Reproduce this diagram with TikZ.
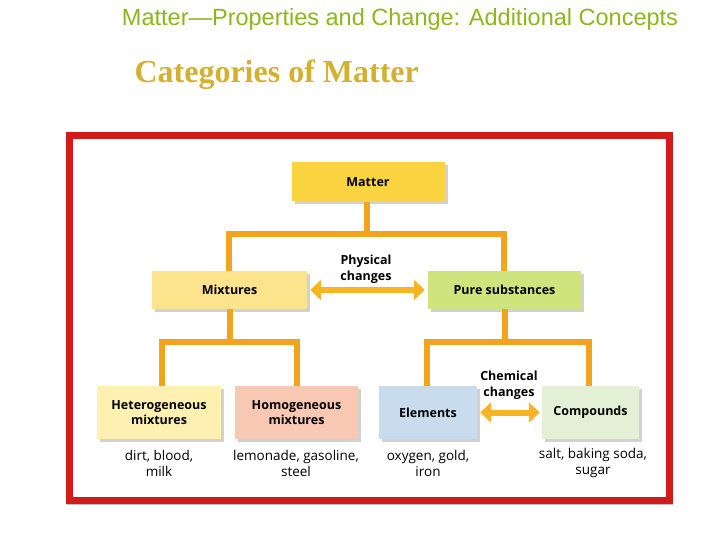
\documentclass[tikz,border=0pt]{standalone}
\usepackage{fontspec}
\usetikzlibrary{shadows,arrows.meta}
\setmainfont{Liberation Serif}
\setsansfont{Liberation Sans}
\newfontfamily\boxfont{Open Sans}
\definecolor{titleg}{HTML}{8DB61C}
\definecolor{catgold}{HTML}{D4B030}
\definecolor{frame}{HTML}{D01C1C}
\definecolor{cMatter}{HTML}{F9D440}
\definecolor{cMix}{HTML}{FCE38C}
\definecolor{cPure}{HTML}{CFE47C}
\definecolor{cHet}{HTML}{FDF0B0}
\definecolor{cHom}{HTML}{F8C8B2}
\definecolor{cEl}{HTML}{C9DCEE}
\definecolor{cComp}{HTML}{E3F0D6}
\definecolor{line}{HTML}{F3A41E}
\definecolor{arr}{HTML}{F8B523}
\begin{document}
\begin{tikzpicture}[x=1pt,y=-1pt,
  box/.style={draw=none,inner sep=0pt,font=\boxfont\bfseries\fontsize{12.5}{15}\selectfont,align=center,
    drop shadow={shadow xshift=3pt,shadow yshift=-3pt,fill=black!30,opacity=0.6}},
  ex/.style={font=\boxfont\fontsize{13.5}{16}\selectfont,align=center,inner sep=0pt},
  lab/.style={font=\boxfont\bfseries\fontsize{12.5}{16}\selectfont,align=center,inner sep=0pt},
  conn/.style={line,line width=6pt},
  darr/.style={arr,line width=6pt,{Triangle[length=11pt,width=20pt]}-{Triangle[length=11pt,width=20pt]}}]
\useasboundingbox (0,0) rectangle (720,540);
\node[font=\sffamily\fontsize{23.5}{26}\selectfont,text=titleg] (t1) at (400,19) {Matter—Properties and Change: Additional Concepts};
\node[font=\bfseries\fontsize{32}{34}\selectfont,text=catgold,anchor=west] (t2) at (131,75) {Categories of Matter};
\draw[frame,line width=7pt] (69.5,135.5) rectangle (669.5,500.5);
\draw[black!25,line width=1pt] (67,504) -- (673,504);
\node[box,fill=cMatter,minimum width=153pt,minimum height=39pt] (m) at (368,182) {Matter};
\node[box,fill=cMix,minimum width=155pt,minimum height=38pt] (mix) at (229.5,290) {Mixtures};
\node[box,fill=cPure,minimum width=153pt,minimum height=38pt] (pure) at (504.5,290) {Pure substances};
\node[box,fill=cHet,minimum width=124pt,minimum height=53pt] (het) at (159,412.5) {Heterogeneous\\mixtures};
\node[box,fill=cHom,minimum width=123pt,minimum height=53pt] (hom) at (296.5,412.5) {Homogeneous\\mixtures};
\node[box,fill=cEl,minimum width=98pt,minimum height=53pt] (el) at (428,412.5) {Elements};
\node[box,fill=cComp,minimum width=97pt,minimum height=53pt] (comp) at (590.5,412.5) {Compounds};
\coordinate (j1) at (367,234);
\coordinate (j2) at (230,342);
\coordinate (j3) at (505,342);
\draw[conn] (m.south -| j1) -- (j1);
\draw[conn,line join=miter] (mix.north -| 229,0) |- (j1) -| (pure.north -| 504,0);
\draw[conn] (mix.south -| j2) -- (j2);
\draw[conn,line join=miter] (het.north -| 162,0) |- (j2) -| (hom.north -| 297,0);
\draw[conn] (pure.south -| j3) -- (j3);
\draw[conn,line join=miter] (el.north -| 427,0) |- (j3) -| (comp.north -| 589,0);
\draw[darr] ([xshift=3pt]mix.east) -- ([xshift=-3pt]pure.west);
\draw[darr] ([xshift=3pt]el.east) -- ([xshift=-2pt]comp.west);
\node[lab] (pc) at (366,269) {Physical\\changes};
\node[lab] (cc) at (509,385) {Chemical\\changes};
\node[ex] (e1) at (159,463) {dirt, blood,\\milk};
\node[ex] (e2) at (296,463) {lemonade, gasoline,\\steel};
\node[ex] (e3) at (428,463) {oxygen, gold,\\iron};
\node[ex] (e4) at (593,463) {salt, baking soda,\\sugar};
\end{tikzpicture}
\end{document}
